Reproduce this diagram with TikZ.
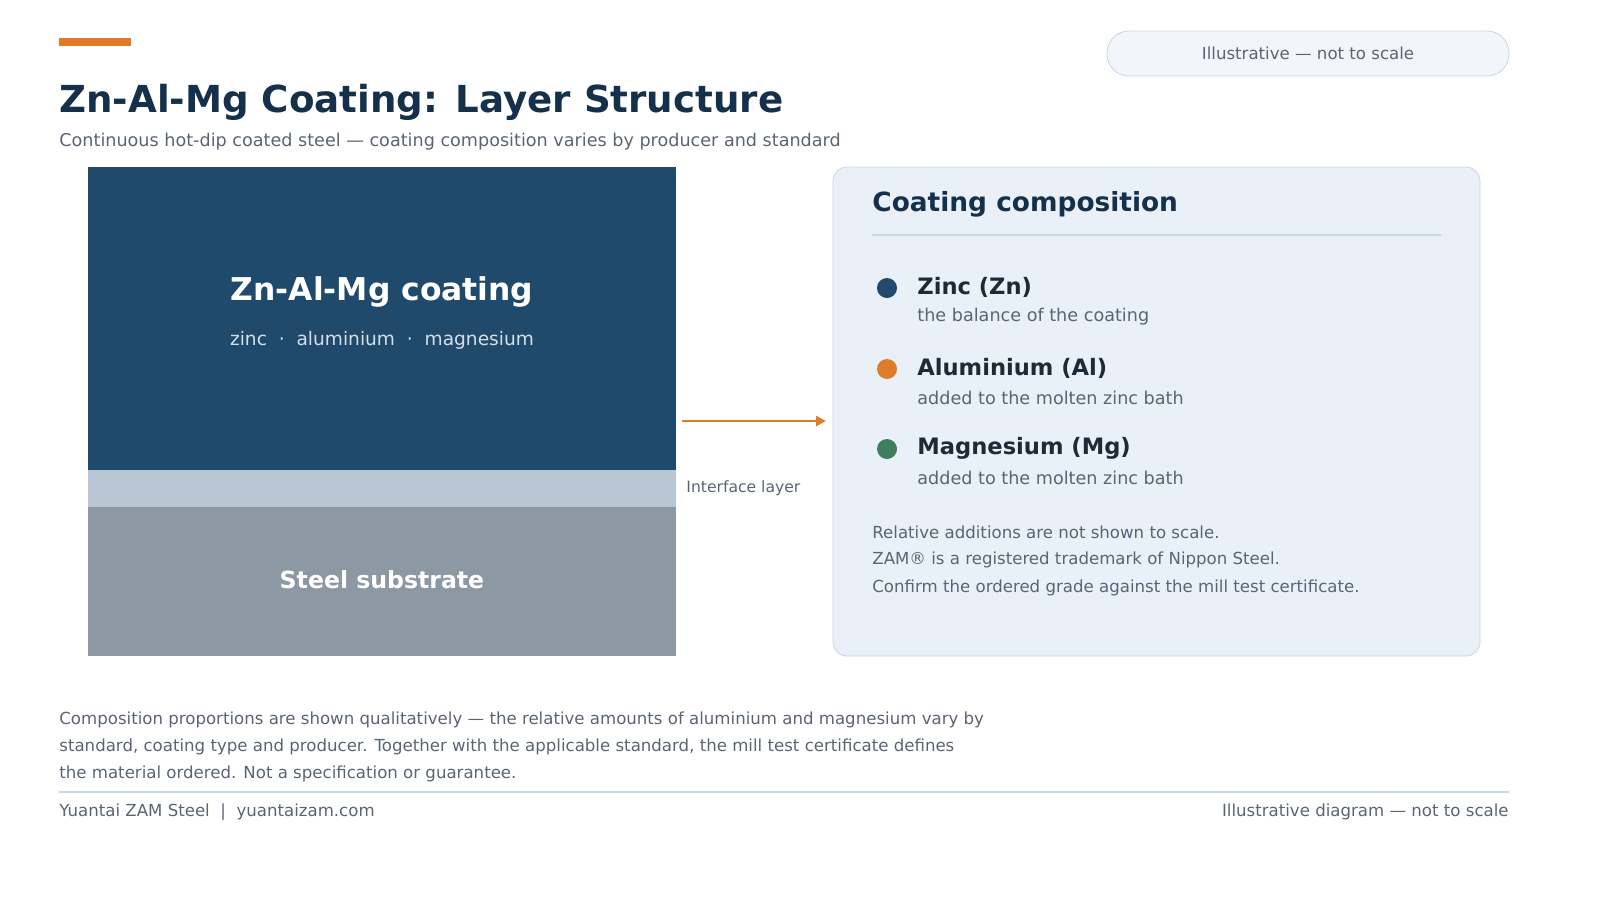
\documentclass[tikz,border=0pt]{standalone}
\usepackage{fontspec}
\setmainfont{DejaVu Sans}
\usetikzlibrary{positioning,calc,arrows.meta}
\definecolor{navy}{HTML}{1F4A6B}
\definecolor{ink}{HTML}{14304A}
\definecolor{dark}{HTML}{1E2A36}
\definecolor{muted}{HTML}{5A6472}
\definecolor{accent}{HTML}{E07B2A}
\definecolor{mg}{HTML}{3E7D5E}
\definecolor{iface}{HTML}{B8C6D3}
\definecolor{steel}{HTML}{8C98A3}
\definecolor{panel}{HTML}{EAF0F7}
\definecolor{rule}{HTML}{C9D6E3}
\tikzset{
  txt/.style={inner sep=0pt, anchor=west, text=muted, font=\fontsize{8.3}{10}\selectfont},
  elem/.style={inner sep=0pt, anchor=west, text=dark, font=\fontsize{11.3}{13}\selectfont\bfseries},
  dot/.style={circle, minimum size=10pt, inner sep=0pt},
}
\begin{document}
\begin{tikzpicture}[x=0.5pt, y=-0.5pt]
  \useasboundingbox (0,0) rectangle (1600,900);
  % header
  \fill[accent] (59,38) rectangle (131,46);
  \draw[rule, fill=panel!60!white, rounded corners=11pt] (1107,31) rectangle (1509,76);
  \node (pill) at (1308,53) [inner sep=0pt, text=muted, font=\fontsize{8.3}{10}\selectfont] {Illustrative — not to scale};
  \node (title) at (59,102) [inner sep=0pt, anchor=west, text=ink, font=\fontsize{18.6}{22}\selectfont\bfseries] {Zn-Al-Mg Coating: Layer Structure};
  \node (sub) at (59,142) [txt, font=\fontsize{8.8}{11}\selectfont] {Continuous hot-dip coated steel — coating composition varies by producer and standard};
  % layers
  \fill[navy] (88,167) rectangle (676,470);
  \fill[iface] (88,470) rectangle (676,507);
  \fill[steel] (88,507) rectangle (676,656);
  \node (coat) at (382,292) [inner sep=0pt, text=white, font=\fontsize{15.7}{19}\selectfont\bfseries] {Zn-Al-Mg coating};
  \node (elems) at (382,340) [inner sep=0pt, text=panel!90!navy, font=\fontsize{9.3}{11}\selectfont] {zinc~~·~~aluminium~~·~~magnesium};
  \node (sub1) at (382,580) [inner sep=0pt, text=white, font=\fontsize{11.8}{14}\selectfont\bfseries] {Steel substrate};
  \node (ifl) at (686,488) [txt, font=\fontsize{7.8}{10}\selectfont] {Interface layer};
  \coordinate (a0) at (682,421);
  \coordinate (a1) at (826,421);
  \draw[accent, line width=1.3pt, -{Triangle[length=5pt,width=5pt]}] (a0) -- (a1);
  % panel
  \draw[rule, fill=panel, rounded corners=7pt] (833,167) rectangle (1480,656);
  \node (head) at (872,204) [inner sep=0pt, anchor=west, text=ink, font=\fontsize{13.2}{16}\selectfont\bfseries] {Coating composition};
  \draw[rule, line width=0.6pt] (872,235) -- (1441,235);
  \node (d1) at (887,288) [dot, fill=navy] {};
  \node (d2) at (887,369) [dot, fill=accent] {};
  \node (d3) at (887,449) [dot, fill=mg] {};
  \node (e1) at (917,287) [elem] {Zinc (Zn)};
  \node (e2) at (917,368) [elem] {Aluminium (Al)};
  \node (e3) at (917,448) [elem] {Magnesium (Mg)};
  \node (s1) at (917,317) [txt, font=\fontsize{8.8}{11}\selectfont] {the balance of the coating};
  \node (s2) at (917,398) [txt, font=\fontsize{8.8}{11}\selectfont] {added to the molten zinc bath};
  \node (s3) at (917,478) [txt, font=\fontsize{8.8}{11}\selectfont] {added to the molten zinc bath};
  \node (n1) at (872,532) [txt] {Relative additions are not shown to scale.};
  \node (n2) at (872,560) [txt] {ZAM® is a registered trademark of Nippon Steel.};
  \node (n3) at (872,588) [txt] {Confirm the ordered grade against the mill test certificate.};
  % footer
  \node (f1) at (59,720) [txt] {Composition proportions are shown qualitatively — the relative amounts of aluminium and magnesium vary by};
  \node (f2) at (59,747) [txt] {standard, coating type and producer. Together with the applicable standard, the mill test certificate defines};
  \node (f3) at (59,774) [txt] {the material ordered. Not a specification or guarantee.};
  \draw[rule, line width=0.6pt] (59,792) -- (1509,792);
  \node (brand) at (59,812) [txt] {Yuantai ZAM Steel~~|~~yuantaizam.com};
  \node (note) at (1509,812) [txt, anchor=east] {Illustrative diagram — not to scale};
\end{tikzpicture}
\end{document}
